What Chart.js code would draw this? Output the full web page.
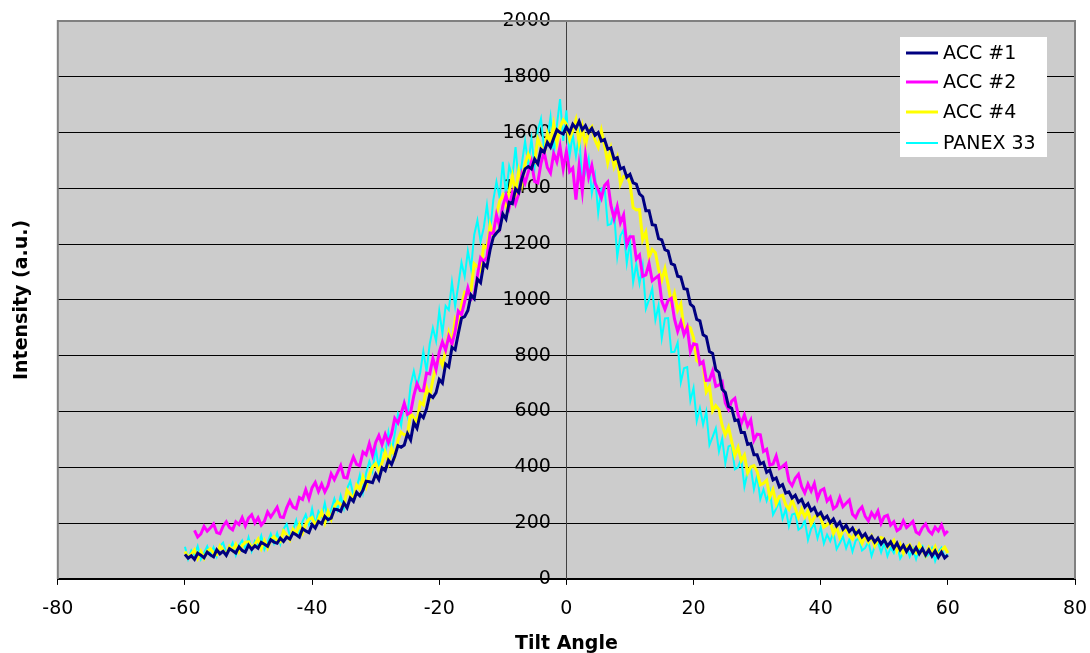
<!DOCTYPE html>
<html>
<head>
<meta charset="utf-8">
<script src="https://cdn.jsdelivr.net/npm/chart.js@4.4.1/dist/chart.umd.min.js"></script>
<style>
  html, body { margin: 0; padding: 0; background: #fff; }
  #wrap { width: 1090px; height: 653px; position: relative; }
</style>
</head>
<body>
<div id="wrap"><canvas id="myChart"></canvas></div>
<script>
// tilt angle grid, -60 .. 60 deg in half degree steps
const angles = [];
for (let a = -120; a <= 120; a++) angles.push(a / 2);

// each row = 5 degrees (10 readings)
const acc1 = [
  88, 74, 83, 70, 92, 85, 76, 96, 86, 79,
  104, 90, 99, 84, 108, 101, 93, 115, 102, 96,
  121, 106, 119, 110, 131, 124, 117, 140, 132, 128,
  146, 134, 150, 143, 165, 158, 150, 180, 172, 166,
  195, 182, 206, 198, 224, 212, 218, 250, 248, 242,
  272, 255, 290, 278, 310, 298, 318, 350, 348, 345,
  375, 356, 398, 388, 425, 410, 440, 478, 472, 480,
  520, 498, 560, 540, 590, 578, 610, 660, 650, 668,
  715, 702, 770, 760, 830, 822, 880, 935, 940, 962,
  1018, 1005, 1075, 1062, 1130, 1118, 1180, 1225, 1240, 1252,
  1308, 1290, 1350, 1345, 1398, 1385, 1435, 1470, 1478, 1470,
  1505, 1488, 1540, 1530, 1565, 1548, 1580, 1610, 1600, 1595,
  1620, 1600, 1630, 1615, 1640, 1610, 1625, 1600, 1615, 1590,
  1600, 1570, 1575, 1540, 1545, 1505, 1510, 1470, 1475, 1440,
  1450, 1420, 1415, 1380, 1370, 1320, 1320, 1270, 1268, 1220,
  1215, 1180, 1175, 1130, 1125, 1085, 1082, 1040, 1038, 985,
  975, 930, 925, 875, 868, 815, 808, 750, 740, 680,
  668, 618, 612, 568, 570, 525, 525, 482, 485, 445,
  445, 412, 418, 382, 390, 355, 362, 330, 338, 308,
  312, 290, 300, 275, 285, 258, 270, 245, 255, 228,
  238, 215, 225, 202, 215, 190, 204, 178, 192, 170,
  182, 160, 172, 150, 162, 140, 152, 132, 146, 125,
  140, 118, 132, 110, 128, 104, 120, 98, 116, 94,
  112, 90, 108, 86, 104, 82, 100, 78, 96, 75,
  85
];

const acc2 = [
  null, null, null, 174, 150, 161, 188, 171, 183, 197,
  166, 162, 189, 205, 184, 176, 205, 195, 220, 190,
  218, 230, 201, 219, 193, 207, 240, 222, 239, 257,
  222, 220, 255, 280, 257, 252, 292, 285, 320, 287,
  327, 346, 314, 340, 312, 334, 377, 356, 381, 406,
  364, 362, 406, 437, 411, 406, 455, 445, 485, 444,
  489, 514, 482, 518, 488, 519, 576, 559, 593, 630,
  590, 597, 657, 700, 675, 674, 738, 735, 790, 751,
  813, 850, 820, 869, 842, 886, 960, 947, 995, 1043,
  1002, 1015, 1088, 1151, 1138, 1153, 1240, 1238, 1305, 1264,
  1337, 1375, 1332, 1384, 1345, 1380, 1451, 1419, 1458, 1495,
  1425, 1420, 1490, 1530, 1475, 1455, 1525, 1495, 1550, 1470,
  1533, 1460, 1473, 1360, 1480, 1390, 1519, 1440, 1482, 1420,
  1395, 1365, 1410, 1423, 1340, 1292, 1335, 1277, 1305, 1198,
  1227, 1227, 1147, 1161, 1085, 1090, 1131, 1069, 1078, 1087,
  996, 966, 998, 1006, 932, 888, 921, 876, 902, 815,
  843, 840, 770, 779, 712, 713, 745, 690, 695, 706,
  630, 607, 637, 647, 590, 557, 588, 548, 570, 497,
  519, 517, 457, 465, 408, 412, 441, 396, 403, 413,
  351, 334, 361, 375, 331, 308, 340, 315, 342, 288,
  317, 323, 279, 293, 252, 261, 292, 259, 271, 283,
  232, 220, 245, 258, 224, 208, 237, 220, 243, 199,
  223, 228, 193, 205, 173, 181, 208, 184, 194, 206,
  168, 161, 184, 197, 172, 161, 185, 172, 193, 160,
  172
];

const acc4 = [
  98, 76, 89, 104, 74, 99, 74, 99, 108, 93,
  87, 118, 103, 87, 116, 102, 124, 97, 119, 132,
  133, 110, 124, 142, 109, 138, 111, 140, 152, 138,
  133, 172, 157, 140, 178, 163, 195, 165, 195, 214,
  220, 193, 213, 240, 202, 242, 215, 257, 277, 265,
  263, 318, 303, 285, 337, 322, 365, 331, 373, 402,
  413, 386, 416, 455, 416, 470, 440, 497, 526, 516,
  519, 593, 578, 563, 633, 624, 686, 654, 714, 763,
  791, 766, 818, 882, 843, 928, 900, 982, 1028, 1022,
  1035, 1130, 1119, 1104, 1195, 1187, 1268, 1231, 1307, 1354,
  1376, 1340, 1389, 1445, 1384, 1463, 1415, 1489, 1522, 1496,
  1493, 1577, 1550, 1518, 1597, 1567, 1630, 1563, 1618, 1645,
  1630, 1576, 1607, 1645, 1564, 1621, 1553, 1608, 1621, 1573,
  1548, 1607, 1554, 1492, 1542, 1478, 1510, 1416, 1443, 1447,
  1418, 1331, 1323, 1324, 1216, 1243, 1153, 1181, 1169, 1110,
  1071, 1112, 1054, 989, 1024, 963, 986, 892, 906, 900,
  864, 783, 773, 770, 670, 689, 602, 621, 607, 550,
  516, 544, 493, 442, 471, 424, 444, 380, 401, 406,
  385, 337, 343, 354, 293, 320, 269, 296, 300, 266,
  250, 283, 253, 221, 251, 222, 244, 198, 221, 231,
  220, 186, 194, 207, 162, 187, 149, 173, 177, 154,
  143, 172, 150, 127, 153, 132, 153, 118, 138, 148,
  143, 114, 124, 138, 100, 124, 92, 116, 122, 102,
  93, 124, 104, 83, 112, 93, 115, 82, 103, 114,
  93
];

const panex33 = [
  115, 71, 102, 86, 117, 71, 93, 117, 85, 113,
  80, 118, 130, 94, 105, 129, 85, 120, 138, 107,
  148, 100, 136, 120, 155, 106, 131, 161, 128, 164,
  126, 179, 197, 155, 175, 210, 158, 206, 231, 195,
  251, 193, 242, 223, 272, 212, 248, 287, 248, 298,
  254, 324, 350, 300, 326, 372, 310, 380, 421, 386,
  470, 395, 470, 450, 525, 455, 520, 590, 550, 633,
  586, 695, 745, 690, 740, 816, 745, 842, 900, 853,
  960, 880, 979, 964, 1064, 978, 1053, 1134, 1084, 1175,
  1112, 1234, 1285, 1210, 1259, 1340, 1245, 1358, 1424, 1366,
  1495, 1375, 1480, 1442, 1548, 1417, 1490, 1570, 1485, 1578,
  1478, 1608, 1650, 1538, 1577, 1656, 1520, 1626, 1720, 1570,
  1680, 1516, 1592, 1516, 1592, 1418, 1459, 1508, 1382, 1445,
  1312, 1400, 1405, 1268, 1272, 1315, 1155, 1230, 1252, 1132,
  1210, 1064, 1128, 1059, 1123, 968, 1001, 1041, 928, 980,
  862, 934, 935, 813, 814, 847, 705, 755, 759, 639,
  685, 566, 612, 553, 600, 480, 509, 540, 457, 503,
  415, 475, 480, 393, 400, 432, 330, 383, 400, 322,
  370, 286, 321, 280, 316, 230, 252, 278, 216, 250,
  189, 231, 235, 176, 185, 210, 140, 180, 197, 146,
  185, 127, 159, 135, 167, 107, 128, 152, 110, 141,
  98, 137, 146, 102, 111, 134, 82, 116, 132, 95,
  130, 82, 112, 93, 123, 73, 93, 115, 80, 108,
  71, 109, 118, 78, 88, 111, 64, 97, 112, 78,
  88
];

const seriesNames = ['ACC #1', 'ACC #2', 'ACC #4', 'PANEX 33'];
const seriesColors = ['#000080', '#FF00FF', '#FFFF00', '#00FFFF'];
const seriesWidths = [3, 3, 3, 2];
const xTicks = [-80, -60, -40, -20, 0, 20, 40, 60, 80];
const yTicks = [0, 200, 400, 600, 800, 1000, 1200, 1400, 1600, 1800, 2000];

const allSeries = [acc1, acc2, acc4, panex33];

function toPoints(vals) {
  return angles.map((a, i) => ({ x: a, y: vals[i] }));
}

// grey plot area with its border, like the spreadsheet chart
const plotArea = {
  id: 'plotArea',
  beforeDraw(chart) {
    const { ctx, chartArea: a } = chart;
    ctx.save();
    ctx.fillStyle = '#CCCCCC';
    ctx.fillRect(a.left, a.top, a.right - a.left, a.bottom - a.top);
    ctx.restore();
  },
  beforeDatasetsDraw(chart) {
    const { ctx, chartArea: a } = chart;
    ctx.save();
    ctx.strokeStyle = '#808080';
    ctx.lineWidth = 2;
    ctx.beginPath();
    ctx.moveTo(a.left, a.bottom);
    ctx.lineTo(a.left, a.top);
    ctx.lineTo(a.right, a.top);
    ctx.lineTo(a.right, a.bottom);
    ctx.stroke();
    ctx.restore();
  }
};

// legend box in the top right corner of the plot
const boxLegend = {
  id: 'boxLegend',
  afterDatasetsDraw(chart) {
    const { ctx } = chart;
    const left = 900, top = 37, w = 147, h = 120;
    ctx.save();
    ctx.fillStyle = '#FFFFFF';
    ctx.fillRect(left, top, w, h);
    ctx.font = '19px "DejaVu Sans", Verdana, sans-serif';
    ctx.textBaseline = 'middle';
    ctx.fillStyle = '#000';
    const rows = [53, 82, 112, 143];
    chart.data.datasets.forEach((ds, i) => {
      ctx.strokeStyle = ds.borderColor;
      ctx.lineWidth = ds.borderWidth;
      ctx.beginPath();
      ctx.moveTo(906, rows[i]);
      ctx.lineTo(938, rows[i]);
      ctx.stroke();
      ctx.fillText(ds.label, 943, rows[i] + 1);
    });
    ctx.restore();
  }
};

const ctx = document.getElementById('myChart').getContext('2d');
new Chart(ctx, {
  type: 'line',
  data: {
    datasets: allSeries.map((vals, i) => ({
      label: seriesNames[i],
      data: toPoints(vals),
      borderColor: seriesColors[i],
      backgroundColor: seriesColors[i],
      borderWidth: seriesWidths[i],
      pointRadius: 0,
      tension: 0,
      fill: false,
      spanGaps: false
    }))
  },
  options: {
    responsive: true,
    maintainAspectRatio: false,
    animation: false,
    events: [],
    layout: { padding: { top: 21, right: 15, left: 0, bottom: 0 } },
    font: { family: '"DejaVu Sans", Verdana, sans-serif', size: 19 },
    plugins: {
      legend: { display: false },
      tooltip: { enabled: false }
    },
    scales: {
      x: {
        type: 'linear',
        position: 'bottom',
        min: -80,
        max: 80,
        afterBuildTicks: (s) => { s.ticks = xTicks.map(v => ({ value: v })); },
        // don't let the label padding eat into the right margin
        afterFit: (s) => { s.paddingRight = 0; s.paddingLeft = 0; },
        ticks: { color: '#000', padding: 12.5, font: { size: 19 } },
        grid: { drawOnChartArea: false, drawTicks: true, tickLength: 6, color: '#000' },
        border: { color: '#000', width: 2 },
        title: {
          display: true, text: 'Tilt Angle', color: '#000',
          font: { size: 19, weight: 'bold' },
          padding: { top: 0, bottom: -2.5 }
        }
      },
      y: {
        type: 'linear',
        position: { x: 0 },
        min: 0,
        max: 2000,
        afterBuildTicks: (s) => { s.ticks = yTicks.map(v => ({ value: v })); },
        afterFit: (s) => { s.width = 0; },
        // labels sit left of the centre axis, a little away from the tick marks
        ticks: { color: '#000', font: { size: 19 }, callback: (v) => String(v) + '\u2002 ' },
        grid: { color: '#000', lineWidth: 1, tickLength: 5 },
        border: { color: '#404040', width: 1 }
      },
      yTitle: {
        type: 'linear',
        position: 'left',
        min: 0,
        max: 2000,
        ticks: { display: false },
        grid: { display: false, drawTicks: false },
        border: { display: false },
        title: {
          display: true, text: 'Intensity (a.u.)', color: '#000',
          font: { size: 19, weight: 'bold' },
          padding: { top: 11, bottom: 24 }
        }
      }
    }
  },
  plugins: [plotArea, boxLegend]
});
</script>
</body>
</html>
